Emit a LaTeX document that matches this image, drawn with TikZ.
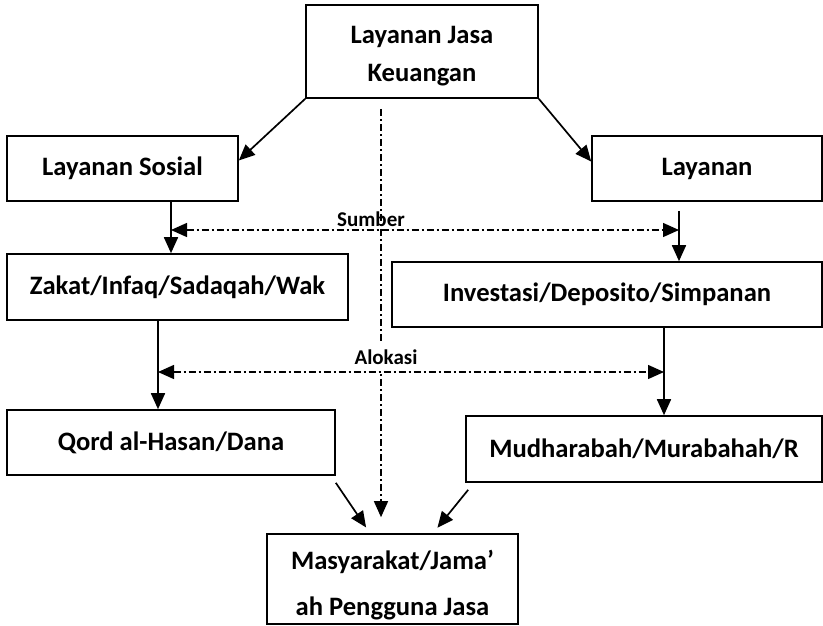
\documentclass[tikz,border=0pt]{standalone}
\usepackage{fontspec}
\setmainfont{Carlito}
\usetikzlibrary{arrows.meta}
\begin{document}
\begin{tikzpicture}[x=1pt,y=-1pt,
  box/.style={draw, line width=1.6pt, inner sep=0pt,
    font=\fontsize{26.6}{30}\selectfont\bfseries},
  twoline/.style={inner sep=0pt, align=center},
  lbl/.style={inner sep=1pt, font=\fontsize{21}{24}\selectfont\bfseries},
  arr/.style={line width=1.7pt, -{Triangle[length=16pt,width=14pt]}},
  dd/.style={line width=1.4pt, dash pattern=on 7pt off 3pt on 2pt off 3pt}
]
\useasboundingbox (0,0) rectangle (823,625);

% boxes
\node[box, minimum width=232pt, minimum height=93pt] (top) at (422,51.5) {};
\node[twoline, font=\fontsize{26.6}{38}\selectfont\bfseries] (topText)
  at ([yshift=-5pt]top.center) {Layanan Jasa\\Keuangan};

\node[box, minimum width=231pt, minimum height=65pt] (sos) at (122.5,168.5) {Layanan Sosial};
\node[box, minimum width=230pt, minimum height=65pt] (lay) at (707,168.5) {Layanan};

\node[box, minimum width=341pt, minimum height=66pt] (zak) at (177.5,287) {Zakat/Infaq/Sadaqah/Wak};
\node[box, minimum width=430pt, minimum height=65pt] (inv) at (607,294.5) {Investasi/Deposito/Simpanan};

\node[box, minimum width=328pt, minimum height=65pt] (qord) at (171,442.5) {Qord al-Hasan/Dana};
\node[box, minimum width=356pt, minimum height=66pt] (mud) at (644,449) {Mudharabah/Murabahah/R};

\node[box, minimum width=251pt, minimum height=90pt] (bot) at (392.5,579) {};
\node[twoline, font=\fontsize{26.6}{46}\selectfont\bfseries] (botText)
  at ([yshift=-6.5pt]bot.center) {Masyarakat/Jama’\\ah Pengguna Jasa};

% branches from the top box
\draw[arr] (top.south west) -- ([yshift=8pt]sos.east);
\draw[arr] (top.south east) -- ([yshift=7pt]lay.west);

% vertical flows
\coordinate (sosOut) at ([xshift=48.5pt]sos.south);
\coordinate (layOut) at ([xshift=-28pt]lay.south);
\coordinate (zakOut) at ([xshift=-19.5pt]zak.south);
\coordinate (invOut) at ([xshift=57pt]inv.south);
\draw[arr] (sosOut) -- (sosOut |- zak.north);
\draw[arr, shorten <=9pt] (layOut) -- (layOut |- inv.north);
\draw[arr] (zakOut) -- (zakOut |- qord.north);
\draw[arr] (invOut) -- (invOut |- mud.north);

% central dash-dot axis
\coordinate (axis) at ([xshift=-41pt]top.south);
\draw[dd, -{Triangle[length=16pt,width=14pt]}, shorten <=10pt, shorten >=16pt]
  (axis) -- (axis |- bot.north);

% Sumber
\coordinate (sumL) at (sosOut |- 0,230);
\coordinate (sumR) at (layOut |- 0,230);
\draw[dd, {Triangle[length=16pt,width=14pt]}-{Triangle[length=16pt,width=14pt]}] (sumL) -- (sumR);
\node[lbl] (sumber) at (371,219) {Sumber};

% Alokasi
\node[lbl, fill=white, inner ysep=7pt] (alokasi) at (386,357) {Alokasi};
\coordinate (aloL) at (zakOut |- 0,372);
\coordinate (aloR) at (invOut |- 0,372);
\draw[dd, {Triangle[length=16pt,width=14pt]}-{Triangle[length=16pt,width=14pt]}] (aloL) -- (aloR);

% into the users box
\draw[arr, shorten >=7pt] ([yshift=-7pt]qord.south east) -- ([xshift=-22.5pt]bot.north);
\draw[arr, shorten >=7pt] ([xshift=3pt,yshift=-7pt]mud.south west) -- ([xshift=40.5pt]bot.north);
\end{tikzpicture}
\end{document}
